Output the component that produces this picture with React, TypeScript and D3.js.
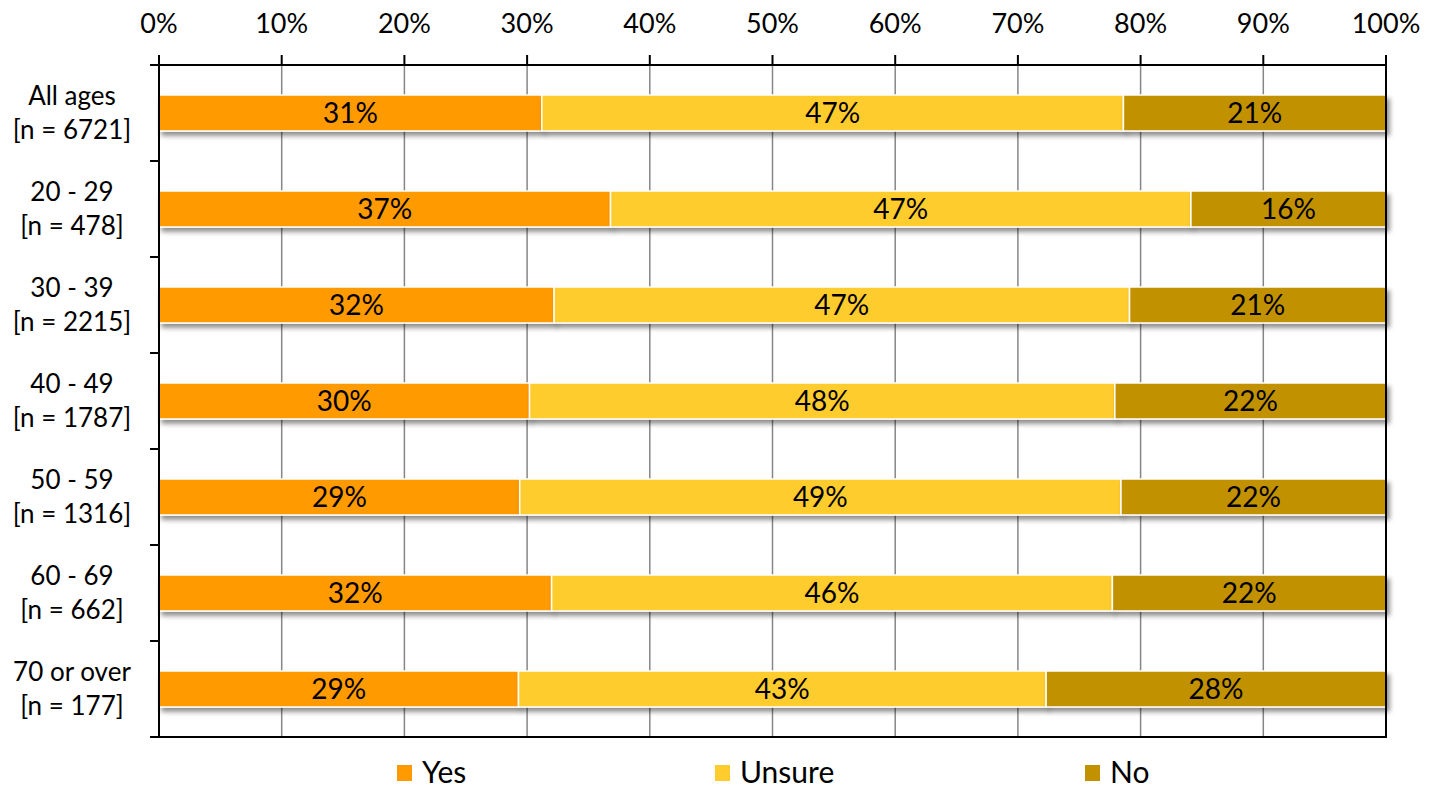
import React from "react";
import * as d3 from "d3";

const categories = ["All ages|[n = 6721]", "20 - 29|[n = 478]", "30 - 39|[n = 2215]", "40 - 49|[n = 1787]", "50 - 59|[n = 1316]", "60 - 69|[n = 662]", "70 or over|[n = 177]"];
const yesValues = [31.2, 36.8, 32.2, 30.2, 29.4, 32.0, 29.3];
const unsureValues = [47.4, 47.3, 46.9, 47.7, 49.0, 45.7, 43.0];
const noValues = [21.4, 15.9, 20.9, 22.1, 21.6, 22.3, 27.7];
const seriesNames = ["Yes", "Unsure", "No"];
const seriesColors = ["#FF9A00", "#FFCC2E", "#C29100"];
const xTicks = [0, 10, 20, 30, 40, 50, 60, 70, 80, 90, 100];

const FONT = "Lato, 'Open Sans', sans-serif";

export default function App() {
  const W = 1441, H = 789;
  const left = 159, right = 1386, top = 65, bottom = 737;
  const x = d3.scaleLinear().domain([0, 100]).range([left, right]);
  const y = d3.scaleBand().domain(categories).range([top, bottom]).paddingInner(0.625).paddingOuter(0.3125);
  const rows = categories.map((c, i) => {
    const vals = [yesValues[i], unsureValues[i], noValues[i]];
    let acc = 0;
    return { c, segs: vals.map((v, k) => { const s = { k, v, x0: acc, x1: acc + v }; acc += v; return s; }) };
  });
  const step = (bottom - top) / categories.length;
  const boundaries = d3.range(categories.length + 1).map(i => top + i * step);
  const legendX = [397, 715, 1085];

  return (
    <svg width={W} height={H} style={{ position: "absolute", left: 0, top: 0 }} fontFamily={FONT}>
      <defs>
        <filter id="sh" x="-5%" y="-30%" width="115%" height="180%">
          <feDropShadow dx="3" dy="4" stdDeviation="2.5" floodColor="#000" floodOpacity="0.45" />
        </filter>
      </defs>
      <rect width={W} height={H} fill="#fff" />
      {xTicks.filter(t => t > 0 && t < 100).map(t => (
        <line key={t} x1={x(t)} x2={x(t)} y1={top} y2={bottom} stroke="#868686" strokeWidth={1.5} />
      ))}
      {rows.map(r => (
        <g key={r.c}>
          {r.segs.map(s => (
            <rect key={s.k} x={x(s.x0)} y={y(r.c)} width={x(s.x1) - x(s.x0)} height={y.bandwidth()}
              fill={seriesColors[s.k]} stroke="#fff" strokeWidth={1.5} filter="url(#sh)" />
          ))}
          {r.segs.map(s => (
            <text key={"t" + s.k} x={(x(s.x0) + x(s.x1)) / 2} y={y(r.c)! + y.bandwidth() / 2} dy="0.36em"
              textAnchor="middle" fontSize={28} fill="#000">{Math.round(s.v)}%</text>
          ))}
          <text x={72} y={y(r.c)! + y.bandwidth() / 2} textAnchor="middle" fontSize={26} fill="#000">
            <tspan x={72} dy="-0.3em">{r.c.split("|")[0]}</tspan>
            <tspan x={72} dy="1.3em">{r.c.split("|")[1]}</tspan>
          </text>
        </g>
      ))}
      {/* axes */}
      <line x1={150} x2={right} y1={top} y2={top} stroke="#000" strokeWidth={2} />
      <line x1={left} x2={left} y1={55} y2={bottom} stroke="#000" strokeWidth={2} />
      <line x1={left} x2={right + 1} y1={bottom} y2={bottom} stroke="#000" strokeWidth={2} />
      <line x1={right} x2={right} y1={top} y2={bottom} stroke="#000" strokeWidth={2} />
      {xTicks.map(t => (
        <g key={t}>
          <line x1={x(t)} x2={x(t)} y1={55} y2={top} stroke="#000" strokeWidth={2} />
          <text x={x(t)} y={33} textAnchor="middle" fontSize={27} fill="#000">{t}%</text>
        </g>
      ))}
      {boundaries.map((b, i) => (
        <line key={i} x1={150} x2={left} y1={b} y2={b} stroke="#000" strokeWidth={2} />
      ))}
      {seriesNames.map((n, i) => (
        <g key={n}>
          <rect x={legendX[i]} y={765} width={15} height={16} fill={seriesColors[i]} />
          <text x={legendX[i] + 25} y={783} fontSize={30} fill="#000">{n}</text>
        </g>
      ))}
    </svg>
  );
}
